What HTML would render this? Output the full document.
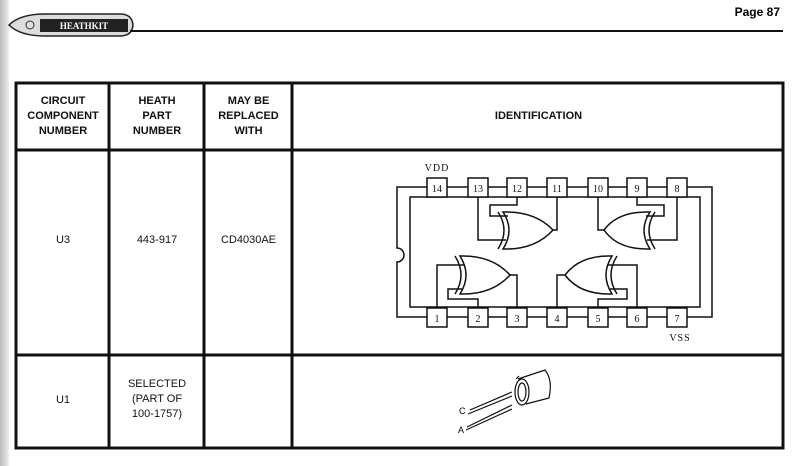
<!DOCTYPE html>
<html><head><style>
body{margin:0;width:804px;height:466px;background:#fff;position:relative;overflow:hidden;font-family:"Liberation Sans",Arial,sans-serif;}
.t{position:absolute;text-align:center;font-size:11px;line-height:15px;color:#111;}
.b{font-weight:bold;}
</style></head><body>
<div style="position:absolute;left:0;top:0;width:9px;height:466px;background:linear-gradient(90deg,#bbb,#eee)"></div>
<svg width="804" height="466" style="position:absolute;left:0;top:0" font-family="Liberation Sans, Arial, sans-serif">
<!-- logo -->
<path d="M9 25 Q20 14 45 14 L120 14 Q132 14 133 25 Q132 36 120 36 L45 36 Q20 36 9 25Z" fill="#ddd" stroke="#222" stroke-width="1.5"/>
<rect x="40" y="19" width="88" height="13" fill="#222"/>
<text x="84" y="29" fill="#fff" font-size="9" font-weight="bold" text-anchor="middle" font-family="Liberation Serif, serif">HEATHKIT</text>
<circle cx="30" cy="25" r="4" fill="none" stroke="#333"/>
<line x1="130" y1="31" x2="783" y2="31" stroke="#111" stroke-width="2"/>
<text x="780" y="16" font-size="12" font-weight="bold" text-anchor="end">Page  87</text>
<!-- table -->
<g stroke="#111" stroke-width="3" fill="none">
<rect x="16" y="83" width="767" height="365"/>
<line x1="16" y1="150" x2="783" y2="150"/>
<line x1="16" y1="355" x2="783" y2="355"/>
<line x1="109" y1="83" x2="109" y2="448"/>
<line x1="204" y1="83" x2="204" y2="448"/>
<line x1="292" y1="83" x2="292" y2="448"/>
</g>
<!-- chip -->
<g stroke="#111" stroke-width="1.5" fill="none">
<path d="M427 187 L397 187 L397 248 A7 7 0 0 1 397 262 L397 317 L427 317"/>
<path d="M687 187 L712 187 L712 317 L687 317"/>
<rect x="410" y="197" width="290" height="110"/>
<line x1="447" y1="187" x2="468" y2="187"/><line x1="488" y1="187" x2="507" y2="187"/><line x1="527" y1="187" x2="547" y2="187"/><line x1="567" y1="187" x2="588" y2="187"/><line x1="608" y1="187" x2="627" y2="187"/><line x1="647" y1="187" x2="667" y2="187"/>
<line x1="447" y1="317" x2="468" y2="317"/><line x1="488" y1="317" x2="507" y2="317"/><line x1="527" y1="317" x2="547" y2="317"/><line x1="567" y1="317" x2="588" y2="317"/><line x1="608" y1="317" x2="627" y2="317"/><line x1="647" y1="317" x2="667" y2="317"/>
<!-- top-left gate -->
<path d="M503 212 Q515 230 503 249 Q535 250 553 230 Q535 211 503 212Z"/>
<path d="M498 212 Q510 230 498 249"/>
<path d="M553 230 L557 230 L557 197"/>
<path d="M478 197 L478 240 L506 240"/>
<path d="M517 197 L517 205 L490 205 L490 216 L508 216"/>
<!-- top-right gate -->
<path d="M650 212 Q638 230 650 249 Q618 250 604 230 Q618 211 650 212Z"/>
<path d="M655 212 Q643 230 655 249"/>
<path d="M604 230 L598 230 L598 197"/>
<path d="M677 197 L677 240 L647 240"/>
<path d="M637 197 L637 205 L664 205 L664 216 L646 216"/>
<!-- bottom-left gate -->
<path d="M460 256 Q472 275 460 294 Q492 295 510 275 Q492 255 460 256Z"/>
<path d="M455 256 Q467 275 455 294"/>
<path d="M510 275 L517 275 L517 307"/>
<path d="M437 307 L437 265 L465 265"/>
<path d="M478 307 L478 299 L448 299 L448 289 L463 289"/>
<!-- bottom-right gate -->
<path d="M612 256 Q600 275 612 294 Q580 295 565 275 Q580 255 612 256Z"/>
<path d="M617 256 Q605 275 617 294"/>
<path d="M565 275 L557 275 L557 307"/>
<path d="M637 307 L637 265 L608 265"/>
<path d="M598 307 L598 299 L627 299 L627 289 L610 289"/>
</g>
<g stroke="#111" stroke-width="1.5" fill="#fff">
<rect x="427" y="178" width="20" height="19"/><rect x="468" y="178" width="20" height="19"/><rect x="507" y="178" width="20" height="19"/><rect x="547" y="178" width="20" height="19"/><rect x="588" y="178" width="20" height="19"/><rect x="627" y="178" width="20" height="19"/><rect x="667" y="178" width="20" height="19"/>
<rect x="427" y="308" width="20" height="19"/><rect x="468" y="308" width="20" height="19"/><rect x="507" y="308" width="20" height="19"/><rect x="547" y="308" width="20" height="19"/><rect x="588" y="308" width="20" height="19"/><rect x="627" y="308" width="20" height="19"/><rect x="667" y="308" width="20" height="19"/>
</g>
<g font-size="10" text-anchor="middle" font-family="Liberation Serif, serif" fill="#111">
<text x="437" y="192">14</text><text x="478" y="192">13</text><text x="517" y="192">12</text><text x="557" y="192">11</text><text x="598" y="192">10</text><text x="637" y="192">9</text><text x="677" y="192">8</text>
<text x="437" y="322">1</text><text x="478" y="322">2</text><text x="517" y="322">3</text><text x="557" y="322">4</text><text x="598" y="322">5</text><text x="637" y="322">6</text><text x="677" y="322">7</text>
<text x="437" y="171" letter-spacing="1">VDD</text><text x="680" y="341" letter-spacing="1">VSS</text>
</g>
<!-- transistor -->
<g stroke="#111" stroke-width="1.2" fill="#fff">
<path d="M518 379 L545 370 Q553 380 549 398 L526 404"/>
<ellipse cx="522" cy="392" rx="7" ry="13"/>
<ellipse cx="522" cy="392" rx="4" ry="9"/>
<line x1="516" y1="379" x2="519" y2="376"/>
<line x1="470" y1="410" x2="512" y2="392"/><line x1="468" y1="414" x2="512" y2="396"/>
<line x1="467" y1="427" x2="512" y2="405"/><line x1="466" y1="430" x2="512" y2="409"/>
</g>
<text x="459" y="414" font-size="9">C</text><text x="458" y="433" font-size="9">A</text>
</svg>
<div class="t b" style="left:18px;top:94px;width:90px">CIRCUIT<br>COMPONENT<br>NUMBER</div>
<div class="t b" style="left:111px;top:94px;width:92px">HEATH<br>PART<br>NUMBER</div>
<div class="t b" style="left:206px;top:94px;width:85px">MAY BE<br>REPLACED<br>WITH</div>
<div class="t b" style="left:294px;top:109px;width:489px">IDENTIFICATION</div>
<div class="t" style="left:18px;top:233px;width:90px">U3</div>
<div class="t" style="left:111px;top:233px;width:92px">443-917</div>
<div class="t" style="left:206px;top:233px;width:85px">CD4030AE</div>
<div class="t" style="left:18px;top:393px;width:90px">U1</div>
<div class="t" style="left:111px;top:377px;width:92px">SELECTED<br>(PART OF<br>100-1757)</div>
</body></html>
